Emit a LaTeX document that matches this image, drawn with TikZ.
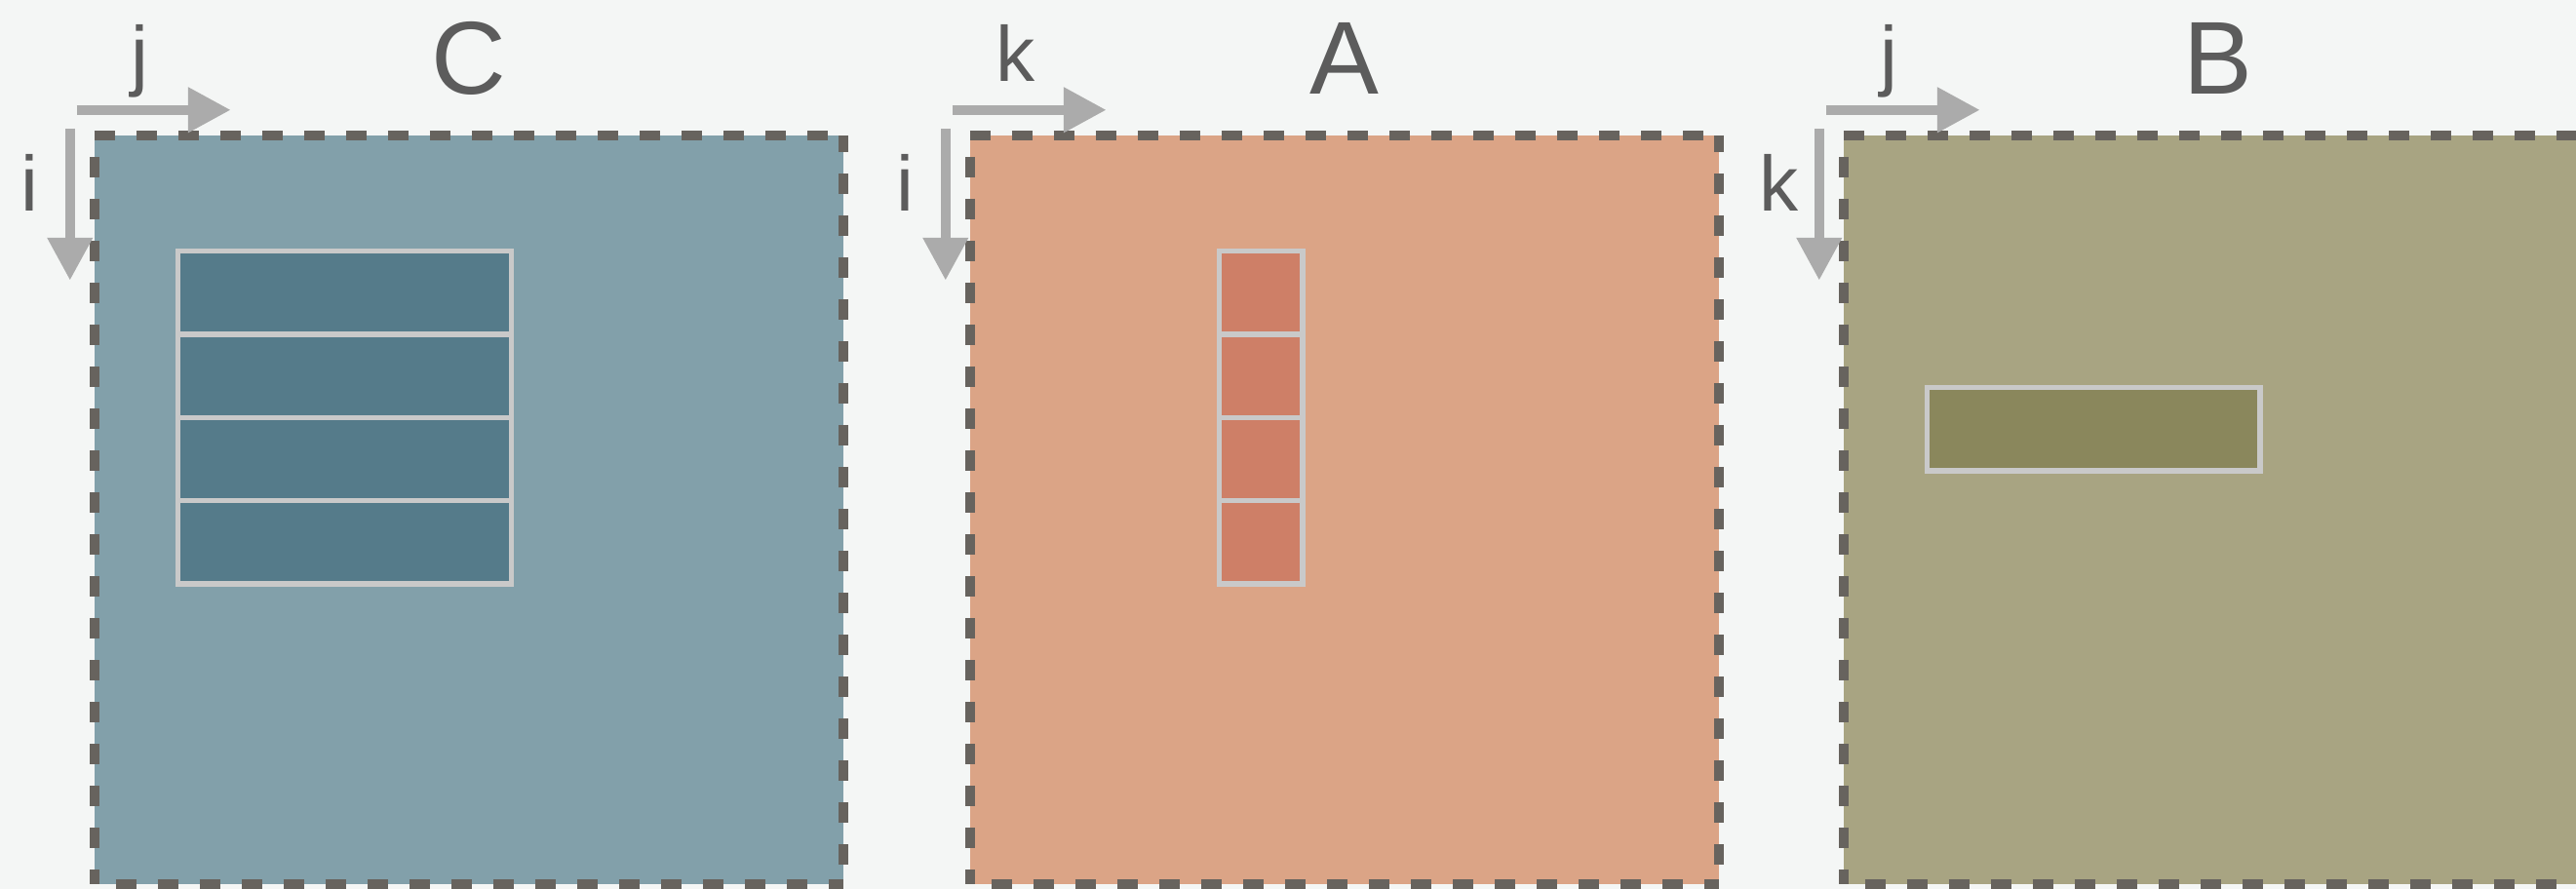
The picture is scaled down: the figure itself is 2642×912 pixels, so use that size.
\documentclass[tikz,border=0pt]{standalone}
\usepackage{fontspec}
\setmainfont{Liberation Sans}
\usetikzlibrary{arrows.meta,calc}
\definecolor{bg}{HTML}{F4F6F5}
\definecolor{cfill}{HTML}{82A0AA}
\definecolor{cdark}{HTML}{557B8A}
\definecolor{afill}{HTML}{DBA486}
\definecolor{adark}{HTML}{CE7F67}
\definecolor{bfill}{HTML}{A8A482}
\definecolor{bdark}{HTML}{8A875C}
\definecolor{dashc}{HTML}{67635E}
\definecolor{arrowc}{HTML}{ABABAB}
\definecolor{textc}{HTML}{5C5C5C}
\definecolor{cellc}{HTML}{C9C9C9}
\begin{document}
\begin{tikzpicture}[x=0.01cm,y=-0.01cm,
  panel/.style={minimum width=7.68cm, minimum height=7.68cm, inner sep=0pt, outer sep=0pt, draw=none},
  border/.style={draw=dashc, line width=0.1cm, dash pattern=on 0.21cm off 0.22cm},
  axis/.style={draw=arrowc, line width=0.105cm, -{Triangle[length=0.44cm,width=0.44cm]}},
  lbl/.style={text=textc, font=\fontsize{22.8}{27}\selectfont, anchor=base, inner sep=0pt},
  ttl/.style={text=textc, font=\fontsize{30.2}{36}\selectfont, anchor=base, inner sep=0pt},
  cell/.style={draw=cellc, line width=0.055cm}]
\clip (0,0) rectangle (2642,912);
\fill[bg] (0,0) rectangle (2642,912);
\foreach \n/\cx/\f/\h/\v in {C/481/cfill/j/i, A/1379/afill/k/i, B/2275/bfill/j/k} {
  \node[panel, fill=\f] (\n) at (\cx,523) {};
  \draw[border] (\n.north west) -- (\n.north east);
  \draw[border, dash phase=0.21cm] (\n.north west) -- (\n.south west);
  \draw[border, dash phase=0.21cm] (\n.south west) -- (\n.south east);
  \draw[border, dash phase=0.04cm] (\n.north east) -- (\n.south east);
  \coordinate (\n hs) at ($(\n.north west)+(-18,-26)$);
  \coordinate (\n he) at ($(\n.north west)+(140,-26)$);
  \coordinate (\n vs) at ($(\n.north west)+(-25,-7)$);
  \coordinate (\n ve) at ($(\n.north west)+(-25,149)$);
  \draw[axis] (\n hs) -- (\n he);
  \draw[axis] (\n vs) -- (\n ve);
  \node[lbl] (\n hl) at ($(\n.north west)+(47,-55)$) {\h};
  \node[lbl] (\n vl) at ($(\n.north west)+(-66,78)$) {\v};
  \node[ttl] (\n t) at (\cx,97) {\n};
}
\foreach \k in {0,1,2,3} {
  \draw[cell, fill=cdark] (182.5,{257.7+85.33*\k}) rectangle (524.5,{343.03+85.33*\k});
  \draw[cell, fill=adark] (1250.5,{257.7+85.33*\k}) rectangle (1335.8,{343.03+85.33*\k});
}
\draw[cell, fill=bdark] (1976.5,397.5) rectangle (2318,483);
\end{tikzpicture}
\end{document}
